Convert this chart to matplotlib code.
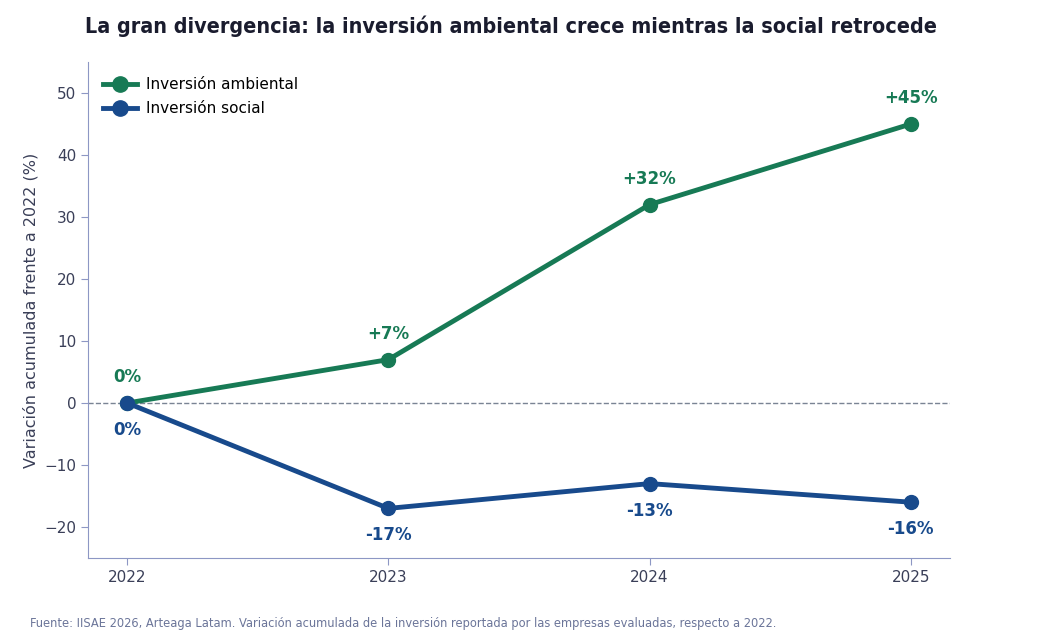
import matplotlib
matplotlib.use("Agg")
import matplotlib.pyplot as plt

years = [2022, 2023, 2024, 2025]
ambiental = [0, 7, 32, 45]
social = [0, -17, -13, -16]
labels_amb = ["0%", "+7%", "+32%", "+45%"]
labels_soc = ["0%", "-17%", "-13%", "-16%"]

GREEN = "#177a55"
BLUE = "#184a8c"
SPINE = "#8d97c4"
TEXT = "#3a3f58"

plt.rcParams['font.family'] = ['DejaVu Sans']

fig = plt.figure(figsize=(10.62, 6.42), dpi=100)
ax = fig.add_axes([88 / 1062, 1 - 558 / 642, (950 - 88) / 1062, (558 - 62) / 642])

ax.axhline(0, color="#7a8494", lw=1, ls="--", zorder=1)
ax.plot(years, ambiental, color=GREEN, lw=3.5, marker="o", ms=10, label="Inversión ambiental", zorder=3)
ax.plot(years, social, color=BLUE, lw=3.5, marker="o", ms=10, label="Inversión social", zorder=3)

for x, y, t in zip(years, ambiental, labels_amb):
    ax.annotate(t, (x, y), xytext=(0, 12), textcoords="offset points",
                ha="center", va="bottom", fontsize=12, fontweight="bold", color=GREEN)
for x, y, t in zip(years, social, labels_soc):
    ax.annotate(t, (x, y), xytext=(0, -13), textcoords="offset points",
                ha="center", va="top", fontsize=12, fontweight="bold", color=BLUE)

ax.set_xlim(2021.85, 2025.15)
ax.set_ylim(-25, 55)
ax.set_xticks(years)
ax.set_xticklabels([str(y) for y in years])
ax.set_yticks([-20, -10, 0, 10, 20, 30, 40, 50])
ax.tick_params(colors=TEXT, labelsize=11, length=5)
for s in ["top", "right"]:
    ax.spines[s].set_visible(False)
for s in ["left", "bottom"]:
    ax.spines[s].set_color(SPINE)
ax.tick_params(axis="both", color=SPINE)
ax.set_ylabel("Variación acumulada frente a 2022 (%)", fontsize=11.5, color=TEXT, labelpad=4)

ax.legend(loc="upper left", frameon=False, fontsize=11, handlelength=2.2, markerscale=1.1,
          handletextpad=0.6, borderaxespad=0.6, labelspacing=0.6)

fig.text(511 / 1062, 1 - 26 / 642, "La gran divergencia: la inversión ambiental crece mientras la social retrocede",
         ha="center", va="center", fontsize=15.4, fontweight="bold", color="#1a1c2e",
         family="DejaVu Sans Condensed", fontstretch="condensed")
fig.text(30 / 1062, 1 - 624 / 642,
         "Fuente: IISAE 2026, Arteaga Latam. Variación acumulada de la inversión reportada por las empresas evaluadas, respecto a 2022.",
         ha="left", va="center", fontsize=9.2, color="#6b7599",
         family="DejaVu Sans Condensed", fontstretch="condensed")

fig.savefig("out.png", dpi=100)
